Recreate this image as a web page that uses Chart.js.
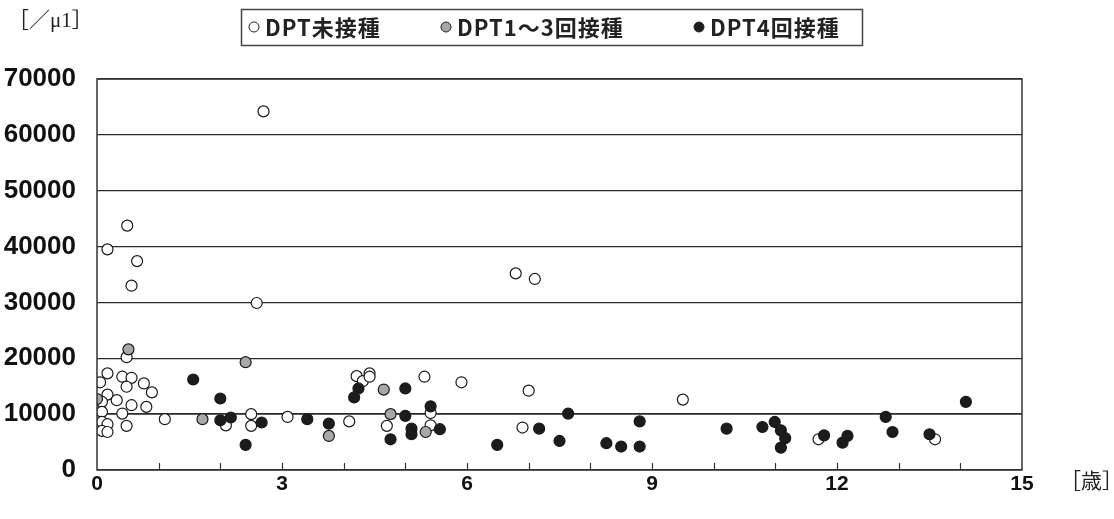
<!DOCTYPE html>
<html>
<head>
<meta charset="utf-8">
<script src="https://cdn.jsdelivr.net/npm/chart.js@4/dist/chart.umd.min.js"></script>
<style>
  body { margin: 0; background: #fff; }
  #wrap { width: 1114px; height: 519px; }
</style>
</head>
<body>
<div id="wrap"><canvas id="wbcChart" width="1114" height="519"></canvas></div>

<script type="text/javascript">
    // 年齢 [歳] と 白血球数 [/μl]
    const seriesNames = ["DPT未接種", "DPT1～3回接種", "DPT4回接種"];

    const noneAge = [0.48, 0.17, 0.05, 0.41, 0.56, 0.48, 0.76, 0.89, 0.17, 0.32, 0.08, 0.56, 0.80, 0.08, 0.41,
                     1.10, 2.09, 2.50, 2.50, 3.09, 0.08, 0.17, 0.48, 0.08, 0.17, 2.70, 0.49, 0.17, 0.65, 0.56,
                     2.59, 6.79, 7.10, 4.09, 4.21, 4.31, 4.42, 4.42, 5.31, 5.91, 5.41, 4.70, 5.41, 7.00, 6.90,
                     9.50, 11.70, 13.59];
    const noneWbc = [20200, 17300, 15700, 16700, 16500, 14900, 15500, 13900, 13500, 12500, 12200, 11600, 11300, 10400, 10100,
                     9100, 8000, 10000, 7900, 9500, 8600, 8200, 7900, 7000, 6800, 64200, 43750, 39500, 37400, 33000,
                     29900, 35200, 34200, 8700, 16800, 15900, 17300, 16700, 16700, 15700, 10200, 7900, 8000, 14200, 7600,
                     12600, 5500, 5500];

    const partAge = [0.51, 2.41, 0.00, 1.71, 3.76, 4.65, 4.76, 5.33];
    const partWbc = [21600, 19300, 12700, 9100, 6100, 14400, 10000, 6800];

    const fullAge = [1.56, 2.00, 2.00, 2.17, 2.67, 2.41, 3.41, 3.76, 4.24, 4.17, 5.00, 5.00, 5.41, 4.76, 5.10,
                     5.10, 5.56, 6.49, 7.17, 7.64, 7.50, 8.26, 8.50, 8.80, 8.80, 10.21, 10.79, 10.99, 11.09, 11.16,
                     11.09, 11.79, 12.09, 12.17, 12.79, 12.90, 13.50, 14.09];
    const fullWbc = [16200, 12800, 8900, 9400, 8500, 4500, 9100, 8300, 14600, 13000, 14600, 9700, 11400, 5500, 7400,
                     6400, 7300, 4500, 7400, 10100, 5200, 4800, 4200, 4200, 8700, 7400, 7700, 8600, 7100, 5700,
                     4000, 6200, 4900, 6100, 9500, 6800, 6400, 12200];

    const xTicks = [0, 3, 6, 9, 12, 15];
    const yMax = 70000;
    const yStep = 10000;
    const yUnit = "［／μ1］";
    const xUnit = "［歳］";

    function toPoints(xs, ys) {
      return xs.map((x, i) => ({ x: x, y: ys[i] }));
    }

    const fills = ["#ffffff", "#a8a8a8", "#1c1c1c"];

    // 枠線・内向き目盛・単位・凡例
    const framePlugin = {
      id: "frame",
      afterDatasetsDraw(chart) {
        const c = chart.ctx, a = chart.chartArea, xs = chart.scales.x;
        c.save();
        c.strokeStyle = "#333";
        c.lineWidth = 1.5;
        c.strokeRect(a.left, a.top, a.right - a.left, a.bottom - a.top);
        c.lineWidth = 1.2;
        for (let v = 1; v < 15; v++) {
          const px = Math.round(xs.getPixelForValue(v)) + 0.5;
          c.beginPath();
          c.moveTo(px, a.bottom);
          c.lineTo(px, a.bottom - 7);
          c.stroke();
        }
        c.restore();
      },
      afterDraw(chart) {
        const c = chart.ctx;
        c.save();
        c.fillStyle = "#222";
        c.font = "21px 'Liberation Serif', 'Noto Sans CJK JP'";
        c.textBaseline = "middle";
        c.fillText(yUnit, 8, 21);
        c.fillText(xUnit, 1060, 482);

        // legend box
        c.strokeStyle = "#444";
        c.lineWidth = 1.5;
        c.strokeRect(241.5, 9.5, 621, 36);
        const mx = [254, 446, 699];
        c.font = "bold 22px 'Noto Sans CJK JP'";
        c.letterSpacing = "1px";
        chart.data.datasets.forEach((ds, i) => {
          c.beginPath();
          c.arc(mx[i], 27, 5, 0, Math.PI * 2);
          c.fillStyle = ds.backgroundColor;
          c.fill();
          c.lineWidth = 1;
          c.strokeStyle = "#222";
          c.stroke();
          c.fillStyle = "#222";
          c.fillText(ds.label, mx[i] + 11, 28);
        });
        c.restore();
      }
    };

    const ctx = document.getElementById("wbcChart").getContext("2d");

    const wbcChart = new Chart(ctx, {
      type: "scatter",
      data: {
        datasets: [
          { label: seriesNames[0], data: toPoints(noneAge, noneWbc), backgroundColor: fills[0], order: 3 },
          { label: seriesNames[1], data: toPoints(partAge, partWbc), backgroundColor: fills[1], order: 2 },
          { label: seriesNames[2], data: toPoints(fullAge, fullWbc), backgroundColor: fills[2], order: 1 }
        ]
      },
      options: {
        responsive: false,
        animation: false,
        layout: { padding: { top: 79, right: 92, left: 0, bottom: 0 } },
        elements: {
          point: { radius: 5.5, borderWidth: 1.2, borderColor: "#1a1a1a", hoverRadius: 5.5 }
        },
        plugins: {
          legend: { display: false },
          tooltip: { enabled: false }
        },
        scales: {
          x: {
            type: "linear",
            min: 0,
            max: 15,
            afterFit: (s) => { s.height = 49; },
            afterBuildTicks: (s) => { s.ticks = xTicks.map(v => ({ value: v })); },
            grid: { display: false, drawTicks: false },
            border: { display: false },
            ticks: {
              color: "#111",
              font: { family: "'Liberation Sans', Arial", size: 21, weight: "bold" },
              padding: 2,
              maxRotation: 0
            }
          },
          y: {
            min: 0,
            max: yMax,
            afterFit: (s) => { s.width = 97; },
            grid: {
              drawTicks: false,
              color: "#2a2a2a",
              lineWidth: (c) => (c.tick && c.tick.value === 10000 ? 1.8 : 1.2)
            },
            border: { display: false },
            ticks: {
              stepSize: yStep,
              color: "#111",
              callback: (v) => String(v),
              font: { family: "'Liberation Sans', Arial", size: 26, weight: "bold" },
              padding: 21
            }
          }
        }
      },
      plugins: [framePlugin]
    });
</script>
</body>
</html>
